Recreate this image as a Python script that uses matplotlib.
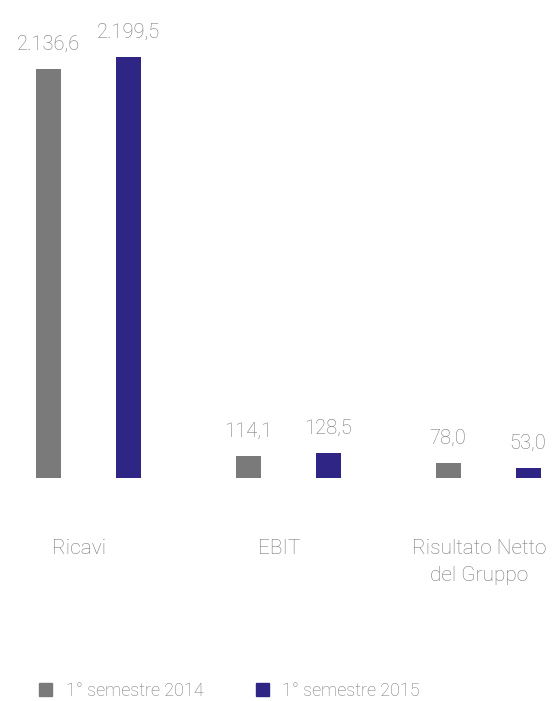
import matplotlib
matplotlib.use("Agg")
import matplotlib.pyplot as plt
import matplotlib.patches as mpatches
import numpy as np

plt.rcParams['font.family'] = ['Roboto', 'DejaVu Sans']
plt.rcParams['font.weight'] = 'light'

categories = ["Ricavi", "EBIT", "Risultato Netto\ndel Gruppo"]
series = ["1° semestre 2014", "1° semestre 2015"]
values_2014 = [2136.6, 114.1, 78.0]
values_2015 = [2199.5, 128.5, 53.0]

c2014 = '#7a7a7a'
c2015 = '#2e2585'
txt = '#777777'


def ita(v):
    s = f"{v:,.1f}"
    return s.replace(",", "X").replace(".", ",").replace("X", ".")


fig = plt.figure(figsize=(5.6, 7.01), dpi=100)
ax = fig.add_axes([0, 223 / 701, 1, 478 / 701])

x = np.arange(len(categories))
width = 0.125
off = 0.2

rects0 = ax.bar(x - off, values_2014, width, color=c2014)
rects1 = ax.bar(x + off, values_2015, width, color=c2015)

for rects in (rects0, rects1):
    for r in rects:
        h = r.get_height()
        ax.annotate(ita(h), (r.get_x() + r.get_width() / 2, h),
                    xytext=(0, 11), textcoords='offset points',
                    ha='center', va='bottom', fontsize=14.5, color=txt)

ax.set_xlim(-0.44, 2.36)
ax.set_ylim(0, 2500)
ax.set_xticks(x - 0.045)
ax.set_xticklabels(categories, fontsize=15, color=txt, linespacing=1.55)
ax.tick_params(axis='x', length=0, pad=44)
ax.set_yticks([])
for s in ax.spines.values():
    s.set_visible(False)

handles = [mpatches.Patch(color=c2014), mpatches.Patch(color=c2015)]
leg = fig.legend(handles, series, loc='lower left', bbox_to_anchor=(0.041, -0.022),
                 ncol=2, frameon=False, fontsize=13, handlelength=0.72,
                 handleheight=0.72, handletextpad=0.75, columnspacing=2.9)
for t in leg.get_texts():
    t.set_color(txt)

fig.savefig("out.png", dpi=100)
